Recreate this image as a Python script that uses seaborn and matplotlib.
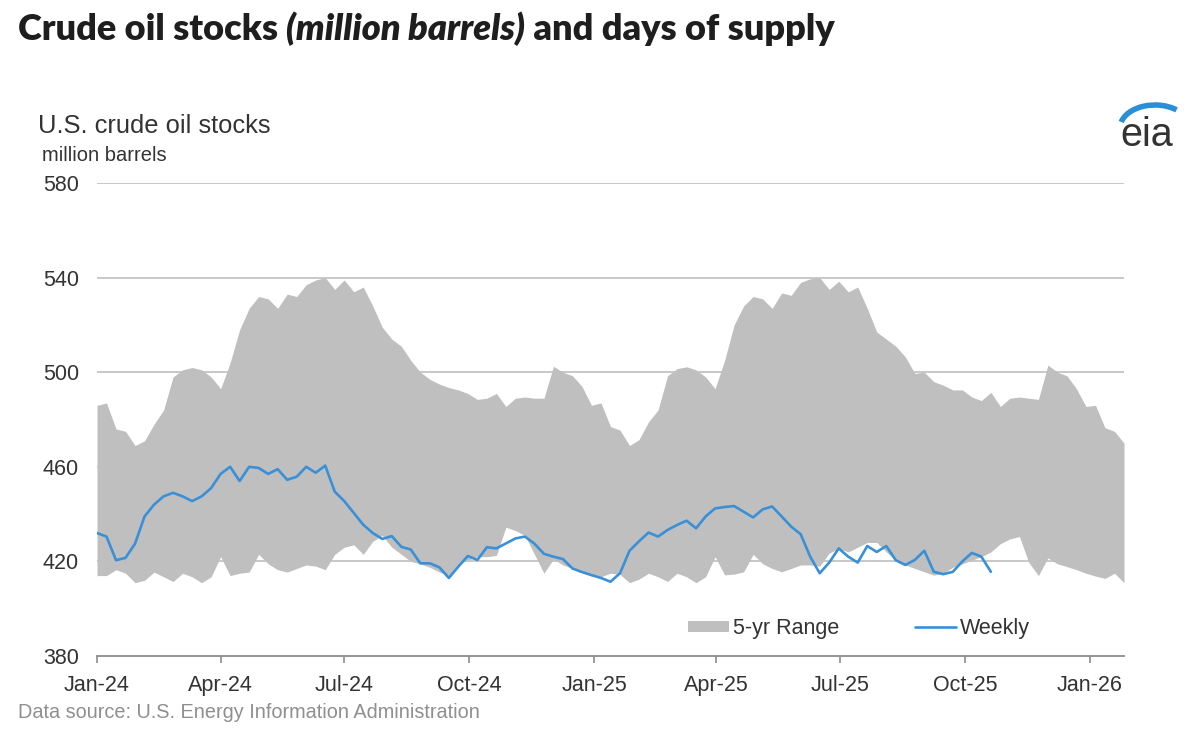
import pandas as pd
import matplotlib.pyplot as plt
import matplotlib.dates as mdates
import seaborn as sns
from matplotlib.patches import Patch, Arc
from matplotlib.lines import Line2D

# 5-yr range, weekly points from Jan-24 to Jan-26 (million barrels)
range_high = [486, 487, 476, 475, 469, 471, 478, 484, 498, 501, 502, 501, 498, 493,
              504, 518, 527, 532, 531, 527, 533, 532, 537, 539, 540, 535, 539, 534,
              536, 528, 519, 514, 511, 505, 500, 497, 495, 493.5, 492.5, 491, 488.5,
              489, 491, 485.5, 489, 489.5, 489, 489, 502.5, 500, 498.5, 494,
              486, 487, 477, 475.5, 469, 471.5, 479, 484, 498.5, 501.5, 502.3, 501,
              498, 493, 505, 520, 528, 532, 531, 527, 533.5, 532.5, 538, 539.5, 540,
              535, 538.5, 534, 536, 527, 517, 514, 511, 506.5, 499.5, 500, 496, 494.5,
              492.5, 492.5, 489.5, 488, 491.5, 485.5, 489, 489.5, 489, 488.5, 503, 500,
              498.5, 493, 485.5, 486, 476.5, 475, 470]
range_low = [414, 414, 416.5, 415, 411, 412, 415.5, 413.5, 411.5, 415, 413.5, 411, 413.5,
             422, 414, 415, 415.5, 423, 419, 416.5, 415.5, 417, 418.5, 418, 416.5, 423,
             426, 427, 423, 428.5, 431, 426, 423, 420, 419, 417.5, 415.5, 414, 419,
             420.5, 422, 422, 422.5, 434.5, 433, 431, 423, 415, 421, 418.5, 417, 415.5,
             414, 413.5, 415, 414.5, 411, 412.5, 415, 413.5, 411.5, 415, 413.5, 411,
             413.5, 422, 414.3, 414.6, 415.6, 423, 419, 417, 415.6, 417, 418.5, 418.5,
             418, 423.5, 425.5, 424, 426, 428, 428, 424, 420.5, 418.5, 417, 415.6, 414.2,
             415, 417.5, 419, 420.5, 422, 424, 427.5, 429.5, 430.5, 419.5, 414, 421.5,
             419, 417.8, 416.5, 415, 413.8, 412.8, 415, 411]
weekly = [432, 430.5, 420.5, 421.5, 427.5, 439, 444, 447.5, 449, 447.5, 445.5, 447.5,
          451, 457, 460, 454, 460, 459.5, 457, 459, 454.5, 455.8, 460, 457.5, 460.5,
          449.5, 445.5, 440.5, 435.5, 432, 429.5, 430.7, 426.2, 425, 419.2, 419.2, 417.5,
          413, 417.8, 422.3, 420.6, 426, 425.5, 427.6, 429.7, 430.5, 427.5, 423.2, 422,
          421, 417, 415.5, 414.2, 413, 411.4, 415, 424.5, 428.5, 432.2, 430.5, 433.3,
          435.4, 437.2, 434, 439, 442.4, 443, 443.4, 441, 438.6, 442, 443.2, 439, 434.7,
          431.5, 422, 415, 419.5, 425.5, 422, 419.5, 426.5, 424, 426.5, 420.5, 418.5,
          420.6, 424.5, 415.6, 414.6, 415.6, 420, 423.6, 422, 415.6]

range_dates = pd.date_range("2024-01-01", periods=len(range_high), freq="7D")
weekly_df = pd.DataFrame({"date": range_dates[:len(weekly)], "stocks": weekly})

sns.set_theme(style="white")
plt.rcParams["font.family"] = ["Liberation Sans", "DejaVu Sans"]

fig = plt.figure(figsize=(12, 7.31), dpi=100)
ax = fig.add_axes([97 / 1200, 1 - 656 / 731, 1027 / 1200, 473 / 731])

band_color = "#bfbfbf"
line_color = "#3a90d6"
text_color = "#333333"

ax.fill_between(range_dates, range_low, range_high, color=band_color, linewidth=0, zorder=2)
sns.lineplot(data=weekly_df, x="date", y="stocks", color=line_color, linewidth=1.9,
             ax=ax, zorder=3)

ax.set_xlim(range_dates[0], range_dates[-1])
ax.set_ylim(380, 580)
ax.set_yticks(range(380, 581, 40))
ax.xaxis.set_major_locator(mdates.MonthLocator(bymonth=[1, 4, 7, 10]))
ax.xaxis.set_major_formatter(mdates.DateFormatter("%b-%y"))
ax.set_xlabel("")
ax.set_ylabel("")

for v in range(420, 581, 40):
    ax.axhline(v, color="#c4c4c4", linewidth=1.3, zorder=1)

for side in ["top", "right", "left"]:
    ax.spines[side].set_visible(False)
ax.spines["bottom"].set_color("#8c8c8c")
ax.spines["bottom"].set_linewidth(1.3)
ax.spines["bottom"].set_zorder(4)

ax.tick_params(axis="x", bottom=True, direction="out", length=5, width=1.2,
               color="#8c8c8c", pad=9, labelsize=15.5, labelcolor=text_color)
ax.tick_params(axis="y", left=False, pad=7, labelsize=15.5, labelcolor=text_color)

handles = [Patch(facecolor=band_color, edgecolor="none", label="5-yr Range"),
           Line2D([0], [0], color=line_color, linewidth=1.9, label="Weekly")]
ax.legend(handles=handles, loc="center", bbox_to_anchor=(0.742, 0.058), ncol=2,
          frameon=False, fontsize=15.5, handlelength=1.9, handleheight=0.42,
          handletextpad=0.2, columnspacing=3.5, labelcolor=text_color)

# headings
fig.canvas.draw()
renderer = fig.canvas.get_renderer()
x_pos = 18 / 1200
title_y = 1 - 40 / 731
for part, style in [("Crude oil stocks ", "normal"), ("(million barrels)", "italic"),
                    (" and days of supply", "normal")]:
    t = fig.text(x_pos, title_y, part, fontsize=26.0, fontweight="heavy", fontstyle=style,
                 family=["Lato", "DejaVu Sans"], color="#1e1e1e", va="baseline")
    bb = t.get_window_extent(renderer=renderer)
    x_pos += bb.width / 1200

fig.text(38 / 1200, 1 - 133 / 731, "U.S. crude oil stocks", fontsize=18.4,
         color=text_color, va="baseline")
fig.text(42 / 1200, 1 - 161 / 731, "million barrels", fontsize=14.5,
         color=text_color, va="baseline")
fig.text(18 / 1200, 1 - 718 / 731, "Data source: U.S. Energy Information Administration",
         fontsize=14.3, color="#8f8f8f", va="baseline")

# eia logo
logo = fig.add_axes([1112 / 1200, 1 - 155 / 731, 76 / 1200, 60 / 731])
logo.set_xlim(0, 76)
logo.set_ylim(0, 60)
logo.axis("off")
logo.text(35, 9, "eia", fontsize=28.5, color="#333333", ha="center", va="baseline")
logo.add_patch(Arc((43, 27), 70, 46, theta1=40, theta2=170, color="#2b8fd8", linewidth=4))

fig.savefig("out.png", dpi=100)
